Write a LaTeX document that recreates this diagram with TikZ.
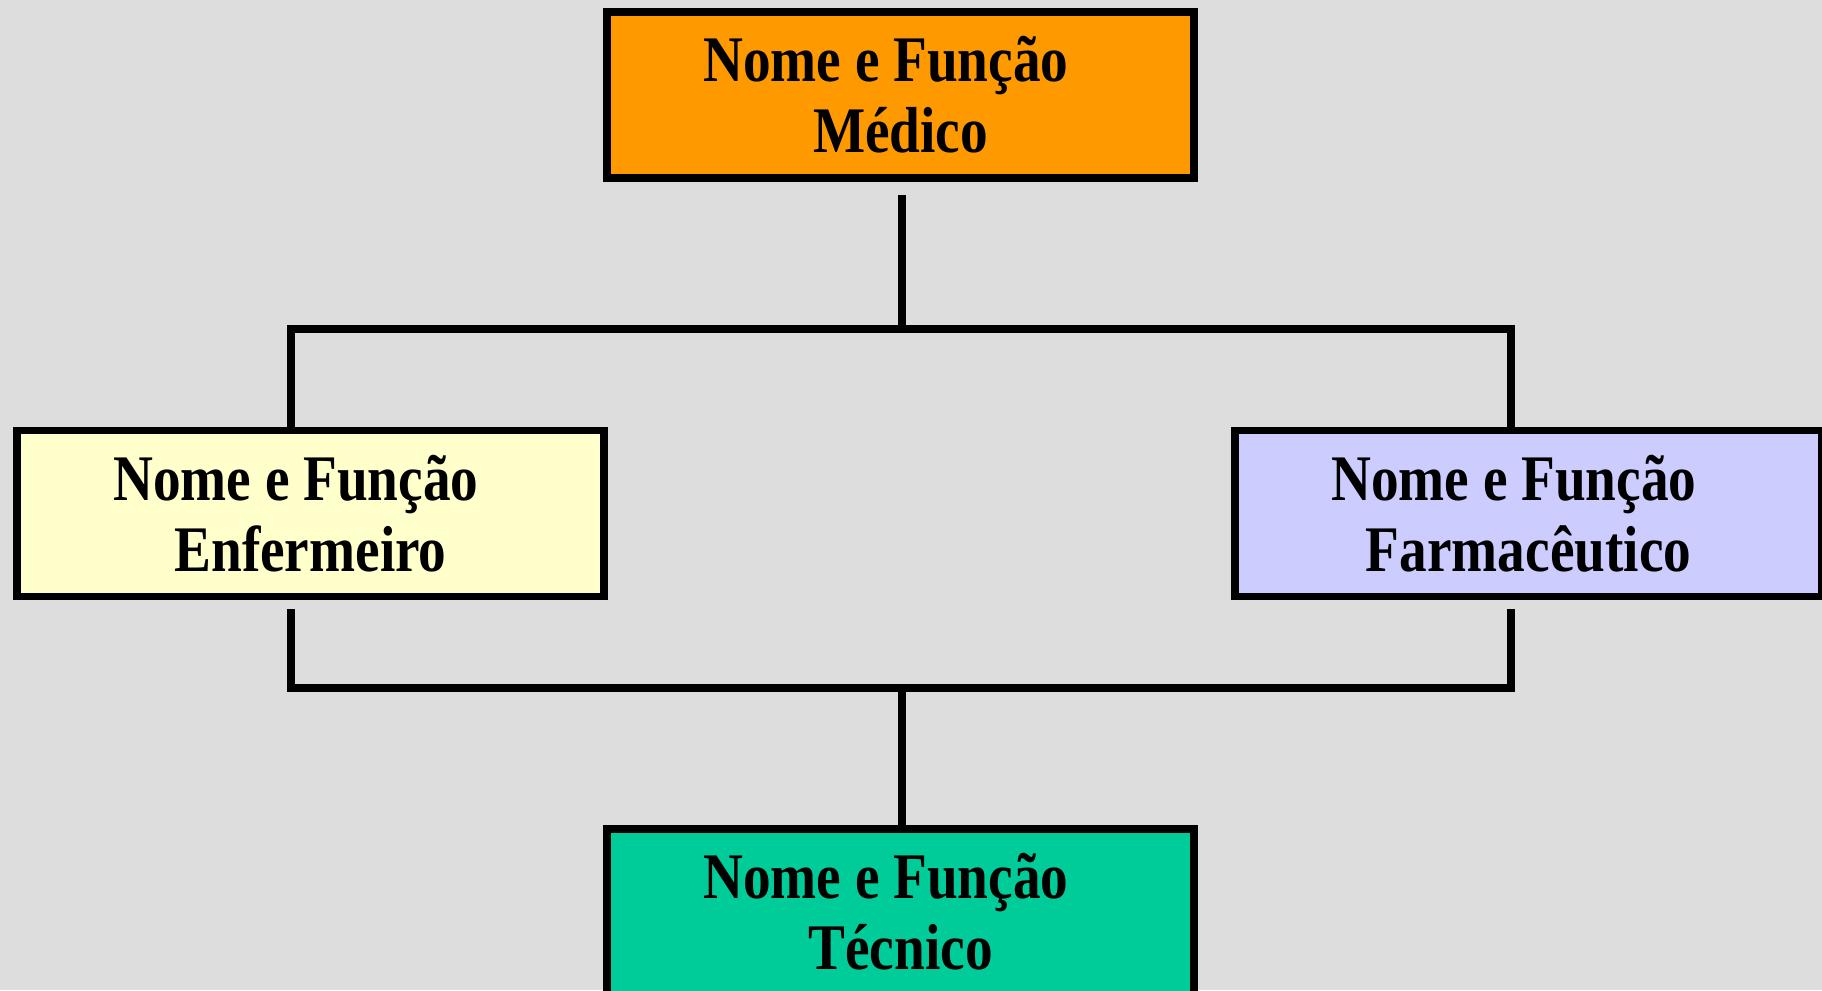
\documentclass[tikz,border=0pt]{standalone}
\usepackage{fontspec}
\setmainfont{Liberation Serif}[FakeStretch=0.85]
\usetikzlibrary{positioning,calc}
\definecolor{fundo}{HTML}{DDDDDD}
\definecolor{laranja}{HTML}{FF9900}
\definecolor{creme}{HTML}{FFFFCC}
\definecolor{lilas}{HTML}{CCCCFF}
\definecolor{verde}{HTML}{00CC99}
\tikzset{
  caixa/.style={draw,line width=2.2pt,minimum width=5.87cm,minimum height=1.66cm,
    inner sep=0pt,align=center,font=\fontsize{18.5}{20.2}\selectfont\bfseries},
  ligacao/.style={line width=2.1pt},
}
\begin{document}
\begin{tikzpicture}
  \fill[fundo] (0,0) rectangle (18.22,-9.9);
  \clip (0,0) rectangle (18.22,-9.9);
  \useasboundingbox (0,0) rectangle (18.22,-9.9);
  \node[caixa,fill=laranja] (med) at (9.005,-0.95) {Nome e Função\kern0.45em\\ Médico};
  \node[caixa,fill=creme] (enf) at (3.105,-5.135) {Nome e Função\kern0.45em\\ Enfermeiro};
  \node[caixa,fill=lilas] (farm) at (15.285,-5.135) {Nome e Função\kern0.45em\\ Farmacêutico};
  \node[caixa,fill=verde] (tec) at (9.005,-9.12) {Nome e Função\kern0.45em\\ Técnico};
  % ligacoes de cima
  \coordinate (jm) at (9.02,-3.29);
  \coordinate (jl) at (2.91,-3.29);
  \coordinate (jr) at (15.11,-3.29);
  \draw[ligacao] ([yshift=-0.13cm]med.south -| jm) -- (jm);
  \draw[ligacao] (enf.north -| jl) -- (jl) -- (jr) -- (farm.north -| jr);
  % ligacoes de baixo
  \coordinate (km) at (9.02,-6.88);
  \coordinate (kl) at (2.91,-6.88);
  \coordinate (kr) at (15.11,-6.88);
  \draw[ligacao] ([yshift=-0.09cm]enf.south -| kl) -- (kl) -- (kr) -- ([yshift=-0.09cm]farm.south -| kr);
  \draw[ligacao] (km) -- (tec.north -| km);
\end{tikzpicture}
\end{document}
